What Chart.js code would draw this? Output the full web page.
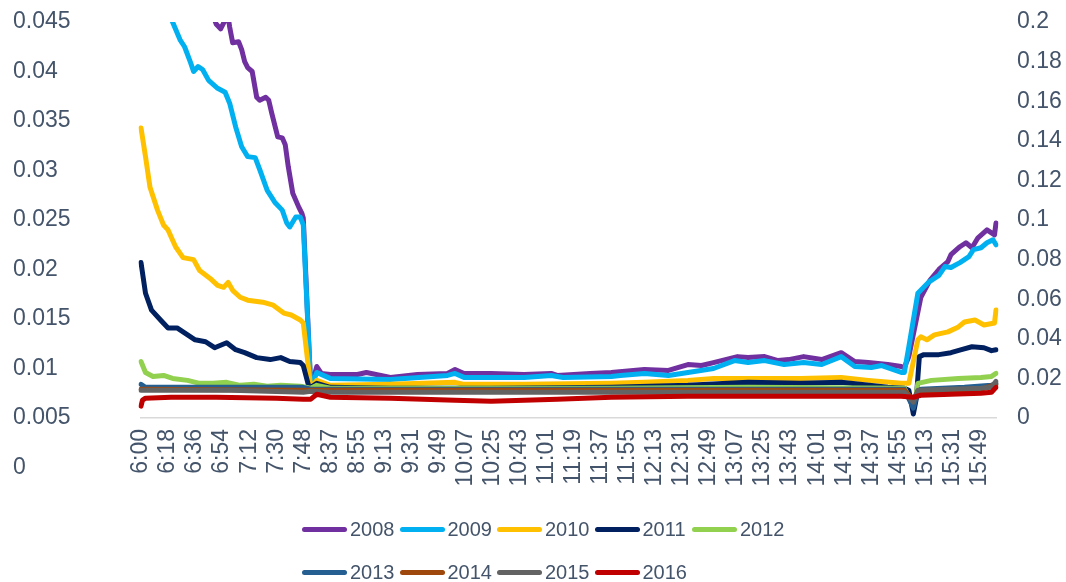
<!DOCTYPE html>
<html>
<head>
<meta charset="utf-8">
<script src="https://cdn.jsdelivr.net/npm/chart.js@4.4.1/dist/chart.umd.min.js"></script>
<style>
  html, body { margin: 0; padding: 0; background: #fff; }
  #wrap { position: relative; width: 1066px; height: 582px; }
  #legend {
    position: absolute; left: 302px; top: 508px;
    display: grid; grid-template-columns: repeat(5, 97.5px); grid-auto-rows: 43px;
    font-family: "Liberation Sans", Arial, sans-serif; font-size: 20px; color: #44546A;
  }
  .item { display: flex; align-items: center; white-space: nowrap; }
  .mark { display: inline-block; width: 45px; height: 5px; border-radius: 3px; margin-right: 3px; }
</style>
</head>
<body>
<div id="wrap">
  <canvas id="chart" width="1066" height="582"></canvas>
  <div id="legend"></div>
</div>
<script>
// trading sessions -> one category per minute
const sessions = [["6:00", "7:59"], ["8:31", "16:00"]];
const leftTicks = [0, 0.005, 0.01, 0.015, 0.02, 0.025, 0.03, 0.035, 0.04, 0.045];
const years = ["2008", "2009", "2010", "2011", "2012", "2013", "2014", "2015", "2016"];
const colors = ["#7030A0", "#00B0F0", "#FFC000", "#002060", "#92D050", "#255E91", "#9E480E", "#636363", "#C00000"];

const s2008 = [["6:00",0.058],["6:30",0.051],["6:46",0.0465],["6:50",0.0448],["6:53",0.0443],["6:56",0.0452],["6:58",0.0455],
  ["6:59",0.0445],["7:01",0.0429],["7:05",0.043],["7:07",0.0422],["7:09",0.041],["7:11",0.0404],["7:14",0.04],["7:17",0.0374],
  ["7:19",0.0371],["7:23",0.0374],["7:25",0.0371],["7:27",0.0358],["7:31",0.0334],["7:34",0.0333],["7:36",0.0326],["7:38",0.0304],
  ["7:41",0.0277],["7:45",0.0263],["7:47",0.0257],["7:48",0.0252],["7:53",0.008],["7:57",0.0102],["8:31",0.0095],["8:37",0.0094],
  ["8:55",0.0094],["9:01",0.0096],["9:17",0.0091],["9:35",0.0094],["9:55",0.0095],["10:00",0.0099],["10:06",0.0095],["10:24",0.0095],
  ["10:46",0.0094],["11:04",0.0095],["11:08",0.0093],["11:30",0.0095],["11:44",0.0096],["12:06",0.0099],["12:22",0.0098],
  ["12:35",0.0104],["12:44",0.0103],["12:52",0.0106],["13:08",0.0112],["13:15",0.0111],["13:26",0.0112],["13:35",0.0108],
  ["13:42",0.0109],["13:52",0.0112],["14:04",0.0109],["14:17",0.0116],["14:26",0.0107],["14:35",0.0106],["14:48",0.0104],
  ["14:57",0.0102],["14:59",0.0101],["15:02",0.0112],["15:06",0.0142],["15:10",0.0172],["15:16",0.0189],["15:22",0.02],
  ["15:28",0.0208],["15:30",0.0215],["15:36",0.0223],["15:40",0.0227],["15:44",0.0222],["15:48",0.0232],["15:54",0.024],
  ["15:57",0.0237],["15:59",0.0235],["16:00",0.0247]];

const s2009 = [["6:00",0.056],["6:10",0.05],["6:21",0.045],["6:26",0.0432],["6:29",0.0425],["6:33",0.0409],["6:35",0.04],
  ["6:38",0.0405],["6:41",0.0402],["6:45",0.0391],["6:51",0.0383],["6:56",0.0379],["6:59",0.0368],["7:03",0.0344],["7:07",0.0324],
  ["7:11",0.0314],["7:16",0.0313],["7:19",0.0301],["7:24",0.028],["7:29",0.0268],["7:34",0.026],["7:37",0.0247],["7:39",0.0243],
  ["7:43",0.0253],["7:46",0.0253],["7:48",0.0245],["7:53",0.008],["7:57",0.0096],["8:37",0.009],["9:17",0.0089],["9:55",0.0093],
  ["10:00",0.0095],["10:06",0.0091],["10:46",0.0091],["11:04",0.0093],["11:12",0.0091],["11:44",0.0092],["11:50",0.0093],
  ["12:06",0.0095],["12:22",0.0093],["12:35",0.0096],["12:52",0.01],["13:06",0.0108],["13:15",0.0106],["13:26",0.0108],
  ["13:39",0.0104],["13:52",0.0106],["14:04",0.0104],["14:17",0.0112],["14:26",0.0102],["14:37",0.0101],["14:44",0.0103],
  ["14:57",0.0096],["14:59",0.0096],["15:02",0.0122],["15:05",0.0149],["15:08",0.0176],["15:15",0.0187],["15:22",0.0194],
  ["15:26",0.0203],["15:30",0.0202],["15:36",0.0207],["15:42",0.0213],["15:45",0.022],["15:50",0.0222],["15:54",0.0227],
  ["15:58",0.023],["16:00",0.0225]];

const s2010 = [["6:00",0.0343],["6:03",0.0314],["6:06",0.0283],["6:11",0.026],["6:15",0.0245],["6:18",0.024],["6:23",0.0223],
  ["6:28",0.0212],["6:35",0.021],["6:39",0.0199],["6:46",0.0191],["6:51",0.0184],["6:55",0.0182],["6:58",0.0187],["7:01",0.0179],
  ["7:06",0.0172],["7:11",0.0169],["7:21",0.0167],["7:28",0.0164],["7:35",0.0156],["7:40",0.0154],["7:46",0.0149],["7:48",0.0146],
  ["7:53",0.008],["7:57",0.0088],["8:37",0.0083],["9:17",0.0084],["10:00",0.0086],["10:06",0.0084],["10:46",0.0084],
  ["11:44",0.0085],["12:06",0.0086],["12:35",0.0088],["12:52",0.009],["13:15",0.009],["13:50",0.009],["14:17",0.0091],
  ["14:35",0.0088],["14:57",0.0085],["15:02",0.0085],["15:08",0.0129],["15:10",0.0132],["15:14",0.0129],["15:19",0.0134],
  ["15:28",0.0137],["15:35",0.0142],["15:39",0.0147],["15:46",0.0149],["15:52",0.0144],["15:59",0.0146],["16:00",0.0159]];

const s2011 = [["6:00",0.0207],["6:03",0.0176],["6:07",0.0159],["6:13",0.0149],["6:18",0.0141],["6:24",0.0141],["6:29",0.0136],
  ["6:36",0.0129],["6:43",0.0127],["6:49",0.0121],["6:57",0.0126],["7:03",0.0119],["7:09",0.0116],["7:17",0.0111],["7:26",0.0109],
  ["7:33",0.0111],["7:39",0.0107],["7:46",0.0106],["7:48",0.0103],["7:52",0.008],["7:57",0.0085],["8:37",0.0081],["9:17",0.008],
  ["10:24",0.008],["11:44",0.0081],["12:35",0.0083],["13:15",0.0086],["13:50",0.0085],["14:17",0.0086],["14:48",0.0081],
  ["14:59",0.008],["15:02",0.0078],["15:05",0.0054],["15:07",0.007],["15:09",0.0112],["15:12",0.0114],["15:22",0.0114],
  ["15:30",0.0116],["15:37",0.0119],["15:44",0.0122],["15:52",0.0121],["15:57",0.0118],["16:00",0.0119]];

const s2012 = [["6:00",0.0107],["6:03",0.0096],["6:08",0.0092],["6:15",0.0093],["6:21",0.009],["6:31",0.0088],["6:39",0.0085],
  ["6:48",0.0085],["6:57",0.0086],["7:06",0.0083],["7:15",0.0084],["7:24",0.0082],["7:33",0.0083],["7:46",0.0082],["7:53",0.008],
  ["7:57",0.0083],["8:37",0.008],["11:44",0.008],["13:15",0.0081],["14:59",0.008],["15:05",0.0063],["15:07",0.0075],
  ["15:08",0.0085],["15:17",0.0088],["15:35",0.009],["15:50",0.0091],["15:57",0.0092],["16:00",0.0095]];

const s2013 = [["6:00",0.0084],["6:03",0.0081],["7:48",0.0081],["7:53",0.0079],["8:37",0.0079],["14:59",0.0079],["15:05",0.006],
  ["15:08",0.0077],["15:10",0.0079],["15:39",0.0081],["15:57",0.0083],["16:00",0.0085]];

const s2014 = [["6:00",0.0079],["7:48",0.0078],["8:37",0.0078],["14:59",0.0078],["15:05",0.0068],["15:08",0.0077],
  ["15:50",0.0079],["16:00",0.0084]];

const s2015 = [["6:00",0.0078],["7:00",0.0078],["7:48",0.0076],["7:53",0.0077],["8:37",0.0076],["14:59",0.0076],["15:05",0.0066],
  ["15:08",0.0078],["15:50",0.008],["15:57",0.0081],["16:00",0.0087]];

const s2016 = [["6:00",0.0062],["6:01",0.0068],["6:03",0.007],["6:20",0.0071],["6:50",0.0071],["7:30",0.007],["7:48",0.0069],
  ["7:53",0.0069],["7:57",0.0074],["8:37",0.0071],["9:17",0.007],["10:00",0.0068],["10:24",0.0067],["11:08",0.0069],
  ["11:44",0.0071],["12:35",0.0072],["13:50",0.0072],["14:57",0.0072],["15:05",0.0071],["15:10",0.0073],["15:50",0.0075],
  ["15:57",0.0076],["16:00",0.0081]];

const series = [s2008, s2009, s2010, s2011, s2012, s2013, s2014, s2015, s2016];

function toMin(t) {
  const [h, m] = t.split(":").map(Number);
  return h * 60 + m;
}
function toLabel(m) {
  return Math.floor(m / 60) + ":" + String(m % 60).padStart(2, "0");
}

const times = [];
sessions.forEach(([a, b]) => {
  for (let m = toMin(a); m <= toMin(b); m++) times.push(toLabel(m));
});

const fmt = (v, d) => String(+Number(v).toFixed(d));

// y axes: fixed width, no extra label overflow padding
function fitY(width) {
  return (scale) => {
    scale.width = width;
    scale.paddingTop = 0;
    scale.paddingBottom = 0;
  };
}

Chart.defaults.font.family = '"Liberation Sans", Arial, sans-serif';
Chart.defaults.color = "#44546A";

const datasets = series.map((s, i) => ({
  label: years[i],
  data: s.map(([x, y]) => ({ x, y })),
  borderColor: colors[i],
  backgroundColor: colors[i],
  borderWidth: 5,
  borderCapStyle: "round",
  borderJoinStyle: "round",
  pointRadius: 0,
  tension: 0,
  yAxisID: "y",
  order: series.length - i,
}));

const chart = new Chart(document.getElementById("chart"), {
  type: "line",
  data: { labels: times, datasets },
  options: {
    responsive: false,
    animation: false,
    devicePixelRatio: 1,
    layout: { padding: { left: 13, top: 22, right: 0, bottom: 0 } },
    plugins: { legend: { display: false }, tooltip: { enabled: false } },
    scales: {
      x: {
        type: "category",
        offset: false,
        grid: { display: false, drawTicks: false },
        border: { display: true, color: "#D9D9D9", width: 1.5 },
        ticks: {
          autoSkip: false,
          minRotation: 90,
          maxRotation: 90,
          padding: 11,
          font: { size: 23 },
          callback: function (value, index) {
            return index % 18 === 0 ? this.getLabelForValue(value) : null;
          },
        },
        afterFit: (scale) => {
          scale.height = 164;
          scale.paddingLeft = 0;
          scale.paddingRight = 0;
        },
      },
      y: {
        position: "left",
        min: 0.005,
        max: 0.045,
        grid: { display: false, drawTicks: false },
        border: { display: false },
        ticks: {
          autoSkip: false,
          crossAlign: "far",
          font: { size: 23 },
          callback: (v) => fmt(v, 3),
        },
        afterBuildTicks: (scale) => {
          scale.ticks = leftTicks.map((value) => ({ value }));
        },
        afterFit: fitY(128),
      },
      y2: {
        position: "right",
        min: 0,
        max: 0.2,
        grid: { display: false, drawTicks: false },
        border: { display: false },
        ticks: {
          stepSize: 0.02,
          autoSkip: false,
          padding: 21,
          font: { size: 23 },
          callback: (v) => fmt(v, 2),
        },
        afterFit: fitY(70),
      },
    },
  },
});

// legend in the Excel grid layout (rows start at the same x)
const legendEl = document.getElementById("legend");
legendEl.innerHTML = chart.data.datasets
  .map((ds) => `<div class="item"><span class="mark" style="background:${ds.borderColor}"></span>${ds.label}</div>`)
  .join("");
</script>
</body>
</html>
